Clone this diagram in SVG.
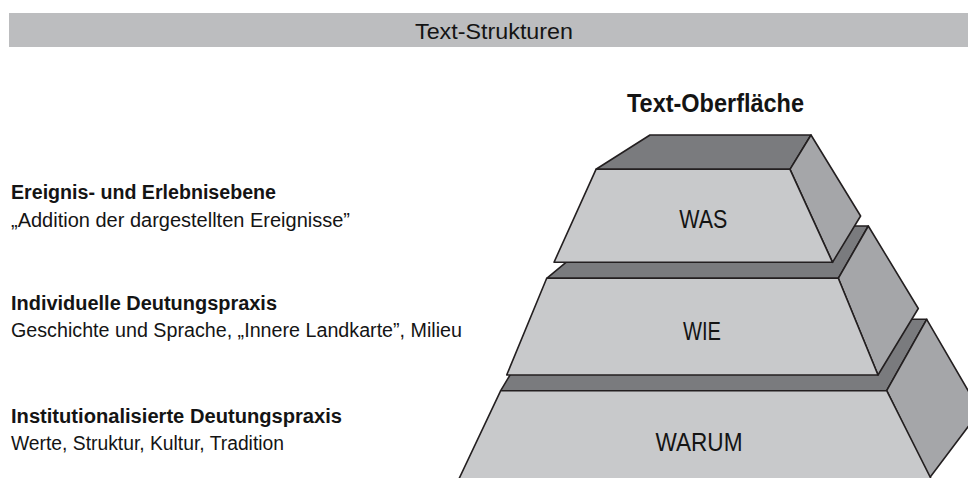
<svg xmlns="http://www.w3.org/2000/svg" width="968" height="478" viewBox="0 0 968 478">
<style>
  .t { font-family: "Liberation Sans", Arial, sans-serif; fill: #141414; }
  .b { font-weight: bold; }
  .lbl { font-size: 19.5px; }
  .blk { font-size: 26px; text-anchor: middle; }
  .front { fill: #c8c9cb; stroke: #231f20; stroke-width: 1.6; stroke-linejoin: round; }
  .top { fill: #7a7b7e; stroke: #231f20; stroke-width: 1.6; stroke-linejoin: round; }
  .side { fill: #a5a6a9; stroke: #231f20; stroke-width: 1.6; stroke-linejoin: round; }
</style>
<rect x="0" y="0" width="968" height="478" fill="#ffffff"/>
<g id="header">
  <rect x="9" y="13" width="959" height="34" fill="#bcbdbf"/>
  <text class="t" x="494" y="38.5" font-size="22.5" text-anchor="middle" textLength="158" lengthAdjust="spacingAndGlyphs">Text-Strukturen</text>
</g>
<g id="title-surface">
  <text class="t b" x="715.5" y="112" font-size="25" text-anchor="middle" textLength="177" lengthAdjust="spacingAndGlyphs">Text-Oberfläche</text>
</g>
<g id="block-warum">
  <polygon class="top" points="500.7,390.7 543,319.3 926.7,319.3 886.7,390.7"/>
  <polygon class="side" points="886.7,390.7 926.7,319.3 980,411 929.5,478"/>
  <polygon class="front" points="500.7,390.7 886.7,390.7 936.7,490 453.7,490"/>
  <text class="t blk" x="699" y="451" textLength="87" lengthAdjust="spacingAndGlyphs">WARUM</text>
</g>
<g id="block-wie">
  <polygon class="top" points="546.7,278.3 610,226 868.3,226 838.3,278.3"/>
  <polygon class="side" points="838.3,278.3 868.3,226 918.3,308.5 878,375"/>
  <polygon class="front" points="546.7,278.3 838.3,278.3 878,375 506.7,375"/>
  <text class="t blk" x="702" y="339.5" textLength="38" lengthAdjust="spacingAndGlyphs">WIE</text>
</g>
<g id="block-was">
  <polygon class="top" points="596,169.3 650,135 811,135 790,169.3"/>
  <polygon class="side" points="790,169.3 811,135 860.6,216 832.5,262.3"/>
  <polygon class="front" points="596,169.3 790,169.3 832.5,262.3 554,262.3"/>
  <text class="t blk" x="703.3" y="228.3" textLength="48" lengthAdjust="spacingAndGlyphs">WAS</text>
</g>
<g id="label-ereignis">
  <text class="t b lbl" x="11" y="199" textLength="265" lengthAdjust="spacingAndGlyphs">Ereignis- und Erlebnisebene</text>
  <text class="t lbl" x="11" y="227" textLength="339" lengthAdjust="spacingAndGlyphs">„Addition der dargestellten Ereignisse”</text>
</g>
<g id="label-individuell">
  <text class="t b lbl" x="11" y="310" textLength="266" lengthAdjust="spacingAndGlyphs">Individuelle Deutungspraxis</text>
  <text class="t lbl" x="11" y="337" textLength="451" lengthAdjust="spacingAndGlyphs">Geschichte und Sprache, „Innere Landkarte”, Milieu</text>
</g>
<g id="label-institutionell">
  <text class="t b lbl" x="11" y="423" textLength="331" lengthAdjust="spacingAndGlyphs">Institutionalisierte Deutungspraxis</text>
  <text class="t lbl" x="11" y="450" textLength="273" lengthAdjust="spacingAndGlyphs">Werte, Struktur, Kultur, Tradition</text>
</g>
<g id="connectors"></g>
</svg>
